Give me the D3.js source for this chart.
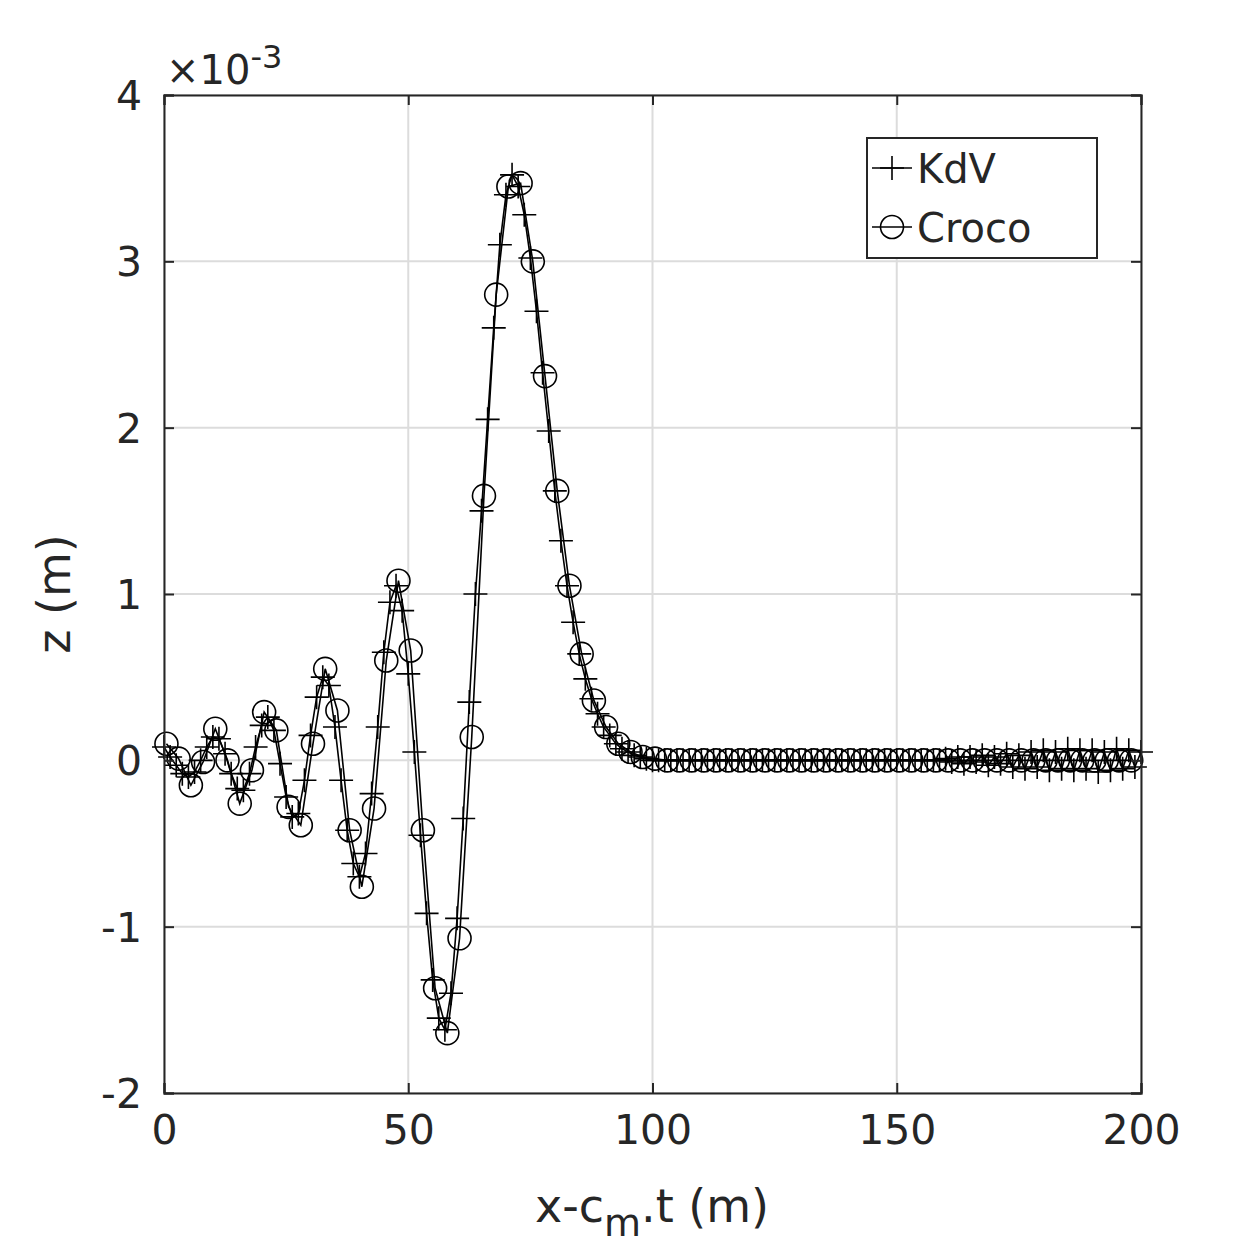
<!DOCTYPE html>
<html><head><meta charset="utf-8">
<script src="https://cdn.jsdelivr.net/npm/d3@7"></script>
<style>body{margin:0;background:#fff}text{font-family:"DejaVu Sans",sans-serif;fill:#262626}</style>
</head><body>
<svg id="chart" width="1260" height="1260"></svg>
<script>
// Croco samples, x = 0.5 + 2.5*i (units of 1e-3 m)
const crocoY = [0.10,0.01,-0.15,-0.01,0.19,0.0,-0.26,-0.06,0.29,0.18,-0.28,-0.39,0.10,0.55,0.30,-0.42,-0.76,-0.29,0.60,1.08,
  0.66,-0.42,-1.37,-1.64,-1.07,0.14,1.59,2.80,3.45,3.47,3.00,2.31,1.62,1.05,0.64,0.36,0.20,0.10,0.05,0.02,
  0.01,0,0,0,0,0,0,0,0,0,0,0,0,0,0,0,0,0,0,0,0,0,0,0,0,0,0,0,0,0,0,0,0,0,0,0,0,0,0,0];
// KdV samples, x = 1.25*i
const kdvY = [0.08,0.02,-0.03,-0.08,-0.10,-0.07,0.0,0.08,0.14,0.13,0.04,-0.08,-0.17,-0.18,-0.08,0.08,0.21,0.26,0.18,-0.02,
  -0.22,-0.34,-0.32,-0.12,0.15,0.38,0.50,0.45,0.20,-0.12,-0.42,-0.62,-0.70,-0.56,-0.20,0.20,0.65,0.95,1.05,0.90,
  0.52,0.05,-0.45,-0.92,-1.32,-1.55,-1.62,-1.40,-0.95,-0.35,0.35,1.00,1.50,2.05,2.60,3.10,3.40,3.52,3.45,3.28,
  3.02,2.70,2.33,1.98,1.62,1.32,1.05,0.83,0.64,0.49,0.37,0.28,0.20,0.15,0.10,0.07,0.05,0.03,0.02,0.01,
  0,0,0,0,0,0,0,0,0,0,0,0,0,0,0,0,0,0,0,0,0,0,0,0,0,0,0,0,0,0,0,0,0,0,0,0,0,0,0,0,
  0,0,0,0,0,0,0,0,0.01,-0.01,0.02,-0.02,0.02,-0.01,0.03,-0.03,0.02,-0.02,0.04,-0.04,0.03,-0.05,0.05,-0.04,0.06,-0.06,0.05,-0.05,0.07,-0.06,0.06,
  -0.05,0.06,-0.07,0.05,-0.06,0.07,-0.05,0.06,-0.04,0.05];
const xTicks = [0,50,100,150,200];
const yTicks = [-2,-1,0,1,2,3,4];

const crocoData = crocoY.map((v,i)=>({x:0.5+2.5*i,y:v}));
const kdvData = kdvY.map((v,i)=>({x:1.25*i,y:v}));

const svg = d3.select('#chart');
const L=164,R=1141,T=95,B=1093;
const x = d3.scaleLinear().domain([0,200]).range([L,R]);
const y = d3.scaleLinear().domain([-2,4]).range([B,T]);

// grid
svg.append('g').selectAll('line').data(xTicks).join('line')
  .attr('x1',d=>x(d)).attr('x2',d=>x(d)).attr('y1',T).attr('y2',B).attr('stroke','#dcdcdc').attr('stroke-width',2);
svg.append('g').selectAll('line').data(yTicks).join('line')
  .attr('y1',d=>y(d)).attr('y2',d=>y(d)).attr('x1',L).attr('x2',R).attr('stroke','#dcdcdc').attr('stroke-width',2);

const line = d3.line().x(d=>x(d.x)).y(d=>y(d.y));
svg.append('path').datum(kdvData).attr('d',line).attr('fill','none').attr('stroke','#000').attr('stroke-width',1.6);
svg.append('path').datum(crocoData).attr('d',line).attr('fill','none').attr('stroke','#000').attr('stroke-width',1.6);

svg.append('g').selectAll('path').data(kdvData).join('path')
  .attr('transform',d=>`translate(${x(d.x)},${y(d.y)})`)
  .attr('d','M-12,0H12M0,-12V12').attr('stroke','#000').attr('stroke-width',1.6).attr('fill','none');
svg.append('g').selectAll('circle').data(crocoData).join('circle')
  .attr('cx',d=>x(d.x)).attr('cy',d=>y(d.y)).attr('r',11.5)
  .attr('fill','none').attr('stroke','#000').attr('stroke-width',1.6);

// axes
const fmt = d=>String(d);
const xa = svg.append('g').attr('transform',`translate(0,${B})`)
  .call(d3.axisBottom(x).tickValues(xTicks).tickFormat(fmt).tickSize(-10).tickPadding(22));
const xa2 = svg.append('g').attr('transform',`translate(0,${T})`)
  .call(d3.axisTop(x).tickValues(xTicks).tickSize(-10).tickFormat(''));
const ya = svg.append('g').attr('transform',`translate(${L},0)`)
  .call(d3.axisLeft(y).tickValues(yTicks).tickFormat(fmt).tickSize(-10).tickPadding(22));
const ya2 = svg.append('g').attr('transform',`translate(${R},0)`)
  .call(d3.axisRight(y).tickValues(yTicks).tickSize(-10).tickFormat(''));
[xa,xa2,ya,ya2].forEach(g=>{
  g.select('.domain').attr('stroke','#262626').attr('stroke-width',2);
  g.selectAll('.tick line').attr('stroke','#262626').attr('stroke-width',2);
  g.selectAll('text').style('font-size','41px').attr('fill','#262626');
});
ya.selectAll('text').attr('dy','0.35em');
xa.selectAll('text').attr('dy','0.71em');

svg.append('text').attr('x',166).attr('y',84).style('font-size','40px')
  .html('×10<tspan dy="-16" font-size="32">-3</tspan>');

svg.append('text').attr('x',652).attr('y',1222).attr('text-anchor','middle').style('font-size','46px')
  .html('x-c<tspan dy="14" font-size="38">m</tspan><tspan dy="-14">.t (m)</tspan>');
svg.append('text').attr('transform','translate(70,594) rotate(-90)').attr('text-anchor','middle')
  .style('font-size','46px').text('z (m)');

// legend
const lg = svg.append('g');
lg.append('rect').attr('x',867).attr('y',138).attr('width',230).attr('height',120)
  .attr('fill','#fff').attr('stroke','#262626').attr('stroke-width',2);
lg.append('line').attr('x1',872).attr('x2',912).attr('y1',168).attr('y2',168).attr('stroke','#000').attr('stroke-width',1.5);
lg.append('path').attr('d','M880,168H904M892,156V180').attr('stroke','#000').attr('stroke-width',1.6);
lg.append('line').attr('x1',872).attr('x2',912).attr('y1',227).attr('y2',227).attr('stroke','#000').attr('stroke-width',1.5);
lg.append('circle').attr('cx',892).attr('cy',227).attr('r',11.5).attr('fill','none').attr('stroke','#000').attr('stroke-width',1.6);
lg.append('text').attr('x',917).attr('y',183).style('font-size','40px').text('KdV');
lg.append('text').attr('x',917).attr('y',242).style('font-size','40px').text('Croco');
</script>
</body></html>
